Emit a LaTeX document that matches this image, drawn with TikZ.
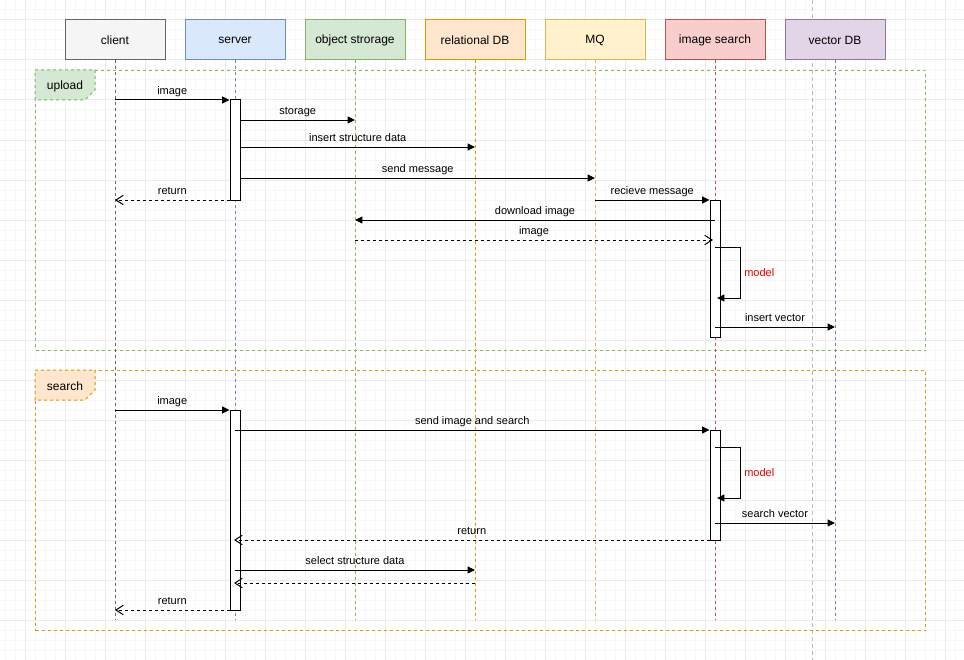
\documentclass[tikz,border=0pt]{standalone}
\usepackage{fontspec}
\setmainfont{Liberation Sans}
\usetikzlibrary{arrows.meta,calc}
\definecolor{cliF}{HTML}{F5F5F5}\definecolor{cliL}{HTML}{666666}
\definecolor{serF}{HTML}{DAE8FC}\definecolor{serL}{HTML}{6C8EBF}
\definecolor{objF}{HTML}{D5E8D4}\definecolor{objL}{HTML}{82B366}
\definecolor{relF}{HTML}{FFE6CC}\definecolor{relL}{HTML}{D79B00}
\definecolor{mqF}{HTML}{FFF2CC}\definecolor{mqL}{HTML}{D6B656}
\definecolor{isF}{HTML}{F8CECC}\definecolor{isL}{HTML}{B85450}
\definecolor{vdF}{HTML}{E1D5E7}\definecolor{vdL}{HTML}{9673A6}
\definecolor{gridminor}{HTML}{F7F7F7}
\definecolor{gridmajor}{HTML}{EBEBEB}
\definecolor{pagebrk}{HTML}{B8B8B8}
\definecolor{modelred}{HTML}{E00000}
\tikzset{
  hdr/.style={rectangle, line width=0.75pt, minimum width=75pt, minimum height=30pt, inner sep=0pt, font=\fontsize{9}{11}\selectfont},
  life/.style={line width=0.75pt, dash pattern=on 2.25pt off 2.25pt},
  actbar/.style={rectangle, draw=black, fill=white, line width=0.75pt, minimum width=7.5pt, inner sep=0pt},
  msg/.style={line width=0.75pt, -{Triangle[length=5.5pt,width=5.25pt]}},
  ret/.style={line width=0.75pt, dash pattern=on 2.25pt off 2.25pt, -{Straight Barb[length=5.5pt,width=7pt,line width=0.75pt]}},
  lbl/.style={font=\fontsize{8.25}{10}\selectfont, inner sep=0pt, text height=6.2pt, text depth=1.8pt, above=1.6pt},
  modellbl/.style={font=\fontsize{8.25}{10}\selectfont, text=modelred, inner sep=0pt, anchor=west},
  framebox/.style={rectangle, line width=0.75pt, dash pattern=on 2.25pt off 2.25pt, minimum width=667.5pt, inner sep=0pt, anchor=north west},
  tagshape/.style={line width=0.75pt, dash pattern=on 2.25pt off 2.25pt},
  tagtxt/.style={font=\fontsize{9}{11}\selectfont, inner sep=0pt},
  minorline/.style={gridminor, line width=0.75pt},
  majorline/.style={gridmajor, line width=0.75pt},
  pagebreak/.style={pagebrk, line width=0.75pt, dash pattern=on 3pt off 2.25pt}
}
\begin{document}
\begin{tikzpicture}[x=0.75pt,y=-0.75pt]
\useasboundingbox (0,0) rectangle (964,660);
\fill[white] (0,0) rectangle (964,660);
% grid
\foreach \x in {5,15,...,955} \draw[minorline] (\x,0) -- (\x,660);
\foreach \y in {0,10,...,660} \draw[minorline] (0,\y) -- (964,\y);
\foreach \x in {25,65,...,945} \draw[majorline] (\x,0) -- (\x,660);
\foreach \y in {20,60,...,660} \draw[majorline] (0,\y) -- (964,\y);
% page break
\coordinate (pbt) at (812,0);
\coordinate (pbb) at (812,660);
\draw[pagebreak] (pbt) -- (pbb);
% frames
\node[framebox, draw=objL, minimum height=210pt] (fup) at (35,70) {};
\draw[tagshape, draw=objL, fill=objF] (fup.north west) -- ++(60,0) -- ++(0,20) -- ++(-10,10) -- ++(-50,0) -- cycle;
\node[tagtxt] (tup) at ($(fup.north west)+(30,16)$) {upload};
\node[framebox, draw=relL, minimum height=195pt] (fse) at (35,370) {};
\draw[tagshape, draw=relL, fill=relF] (fse.north west) -- ++(60,0) -- ++(0,20) -- ++(-10,10) -- ++(-50,0) -- cycle;
\node[tagtxt] (tse) at ($(fse.north west)+(30,16)$) {search};
% headers
\node[hdr, fill=cliF, draw=cliL] (client) at (115,40) {client};
\node[hdr, fill=serF, draw=serL] (server) at (235,40) {server};
\node[hdr, fill=objF, draw=objL] (ostore) at (355,40) {object strorage};
\node[hdr, fill=relF, draw=relL] (reldb) at (475,40) {relational DB};
\node[hdr, fill=mqF, draw=mqL] (mq) at (595,40) {MQ};
\node[hdr, fill=isF, draw=isL] (isearch) at (715,40) {image search};
\node[hdr, fill=vdF, draw=vdL] (vdb) at (835,40) {vector DB};
% lifelines
\coordinate (lifeend) at (0,620);
\draw[life, cliL] (client.south) -- (client.south |- lifeend);
\draw[life, serL] (server.south) -- (server.south |- lifeend);
\draw[life, objL] (ostore.south) -- (ostore.south |- lifeend);
\draw[life, relL] (reldb.south) -- (reldb.south |- lifeend);
\draw[life, mqL] (mq.south) -- (mq.south |- lifeend);
\draw[life, isL] (isearch.south) -- (isearch.south |- lifeend);
\draw[life, vdL] (vdb.south) -- (vdb.south |- lifeend);
% activations
\node[actbar, minimum height=75pt] (a1) at (235,150) {};
\node[actbar, minimum height=102.75pt] (a2) at (715,268.5) {};
\node[actbar, minimum height=150pt] (a3) at (235,510) {};
\node[actbar, minimum height=82.5pt] (a4) at (715,485) {};
% message rows
\coordinate (m1) at (0,100);
\coordinate (m2) at (0,120);
\coordinate (m3) at (0,147);
\coordinate (m4) at (0,178);
\coordinate (m5) at (0,200);
\coordinate (m7) at (0,220);
\coordinate (m8) at (0,240);
\coordinate (L1) at (0,247);
\coordinate (L2) at (0,298);
\coordinate (m9) at (0,327);
\coordinate (s1) at (0,410);
\coordinate (s2) at (0,430);
\coordinate (K1) at (0,447);
\coordinate (K2) at (0,498);
\coordinate (s3) at (0,523);
\coordinate (s4) at (0,540);
\coordinate (s5) at (0,570);
\coordinate (s6) at (0,583);
\coordinate (s7) at (0,610);
% upload messages
\draw[msg] (client |- m1) -- (a1.west |- m1) node[midway, lbl] {image};
\draw[msg] (a1.east |- m2) -- (ostore |- m2) node[midway, lbl] {storage};
\draw[msg] (a1.east |- m3) -- (reldb |- m3) node[midway, lbl] {insert structure data};
\draw[msg] (a1.east |- m4) -- (mq |- m4) node[midway, lbl] {send message};
\draw[ret] (a1.west |- m5) -- (client |- m5) node[midway, lbl] {return};
\draw[msg] (mq |- m5) -- (a2.west |- m5) node[midway, lbl] {recieve message};
\draw[msg] (a2 |- m7) -- (ostore |- m7) node[midway, lbl] {download image};
\draw[ret] (ostore |- m8) -- ($(a2 |- m8)+(-2,0)$) node[midway, lbl] {image};
\draw[msg] (a2 |- L1) -| ($(a2 |- L2)+(25,0)$) -- ($(a2 |- L2)+(2,0)$);
\node[modellbl] (mod1) at ($(a2 |- L1)+(29,25.5)$) {model};
\draw[msg] (a2 |- m9) -- (vdb |- m9) node[midway, lbl] {insert vector};
% search messages
\draw[msg] (client |- s1) -- (a3.west |- s1) node[midway, lbl] {image};
\draw[msg] (a3 |- s2) -- (a4.west |- s2) node[midway, lbl] {send image and search};
\draw[msg] (a4 |- K1) -| ($(a4 |- K2)+(25,0)$) -- ($(a4 |- K2)+(2,0)$);
\node[modellbl] (mod2) at ($(a4 |- K1)+(29,25.5)$) {model};
\draw[msg] (a4 |- s3) -- (vdb |- s3) node[midway, lbl] {search vector};
\draw[ret] (a4.west |- s4) -- ($(a3 |- s4)+(-1,0)$) node[midway, lbl] {return};
\draw[msg] (a3 |- s5) -- (reldb |- s5) node[midway, lbl] {select structure data};
\draw[ret] (reldb |- s6) -- ($(a3 |- s6)+(-1,0)$);
\draw[ret] (a3.west |- s7) -- (client |- s7) node[midway, lbl] {return};
\end{tikzpicture}
\end{document}
